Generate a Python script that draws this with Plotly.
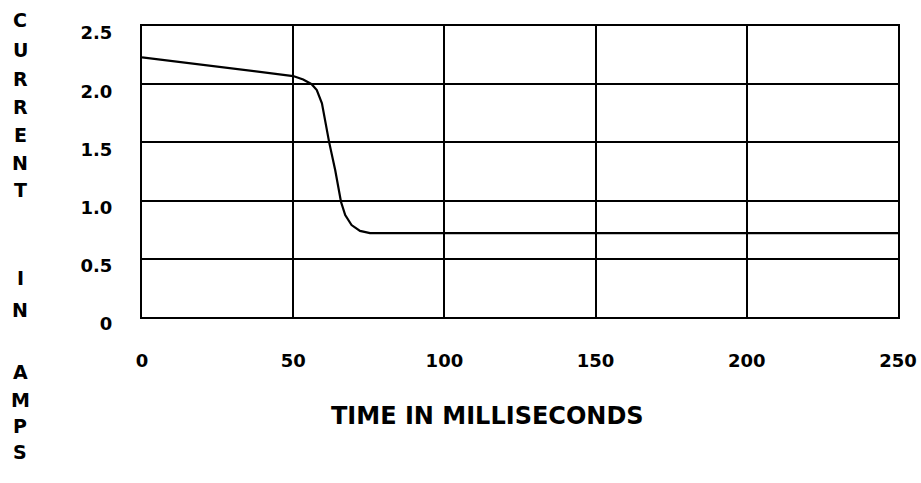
import plotly.graph_objects as go

# Data
time_ms = [0, 50, 53.3, 56.1, 57.8, 59.5, 61.9, 63.9, 65.8, 67.2, 69.3, 72.1, 75.4, 100, 150, 200, 250]
current_a = [2.23, 2.07, 2.04, 2.00, 1.95, 1.835, 1.50, 1.26, 0.99, 0.875, 0.79, 0.74, 0.72, 0.72, 0.72, 0.72, 0.72]

x_ticks = [0, 50, 100, 150, 200, 250]
x_ticktext = ["0", "50", "100", "150", "200", "250"]
y_ticks = [0, 0.5, 1.0, 1.5, 2.0, 2.5]
y_ticktext = ["0", "0.5", "1.0", "1.5", "2.0", "2.5"]

x_title = "TIME IN MILLISECONDS"
y_title_letters = ["C", "U", "R", "R", "E", "N", "T", "I", "N", "A", "M", "P", "S"]
y_title_pos_px = [20, 50, 79, 107, 135, 163, 190, 278, 310, 372, 400, 426, 452]

W, H = 921, 483
PL, PR, PT, PB = 142, 898, 26, 317   # plot area in pixels
L, R, T, B = PL, W - PR, PT, H - PB
plot_h = PB - PT
plot_w = PR - PL

FONT = "DejaVu Sans"

fig = go.Figure()
fig.add_trace(go.Scatter(
    x=time_ms, y=current_a, mode="lines",
    line=dict(color="black", width=2.2, shape="linear"),
    showlegend=False, hoverinfo="skip",
))

fig.update_layout(
    width=W, height=H,
    margin=dict(l=L, r=R, t=T, b=B, pad=0),
    paper_bgcolor="white", plot_bgcolor="white",
    font=dict(family=FONT, color="black"),
    showlegend=False,
)

fig.update_xaxes(
    range=[0, 250], tickvals=x_ticks, ticktext=x_ticktext, automargin=False,
    showgrid=True, gridcolor="black", gridwidth=2,
    zeroline=False, showline=True, linecolor="black", linewidth=2, mirror=True,
    ticks="", ticklabelstandoff=26,
    tickfont=dict(family=FONT, size=18, color="black", weight="bold"),
)
fig.update_yaxes(
    range=[0, 2.5], tickvals=y_ticks, ticktext=y_ticktext, automargin=False,
    showgrid=True, gridcolor="black", gridwidth=2,
    zeroline=False, showline=True, linecolor="black", linewidth=2, mirror=True,
    ticks="", ticklabelstandoff=24, ticklabelshift=7,
    tickfont=dict(family=FONT, size=18, color="black", weight="bold"),
)

annotations = []
for letter, py in zip(y_title_letters, y_title_pos_px):
    annotations.append(dict(
        text=letter, xref="paper", yref="paper",
        x=(20 - PL) / plot_w, y=(PB - py) / plot_h,
        xanchor="center", yanchor="middle", showarrow=False,
        font=dict(family=FONT, size=19, color="black", weight="bold"),
    ))
annotations.append(dict(
    text=x_title, xref="paper", yref="paper",
    x=(487 - PL) / plot_w, y=(PB - 416) / plot_h,
    xanchor="center", yanchor="middle", showarrow=False,
    font=dict(family=FONT, size=24, color="black", weight="bold"),
))
fig.update_layout(annotations=annotations)

fig.write_html(
    "out.html",
    config={"displayModeBar": False, "staticPlot": True},
    post_script="document.body.style.margin='0';document.body.style.overflow='hidden';",
)
